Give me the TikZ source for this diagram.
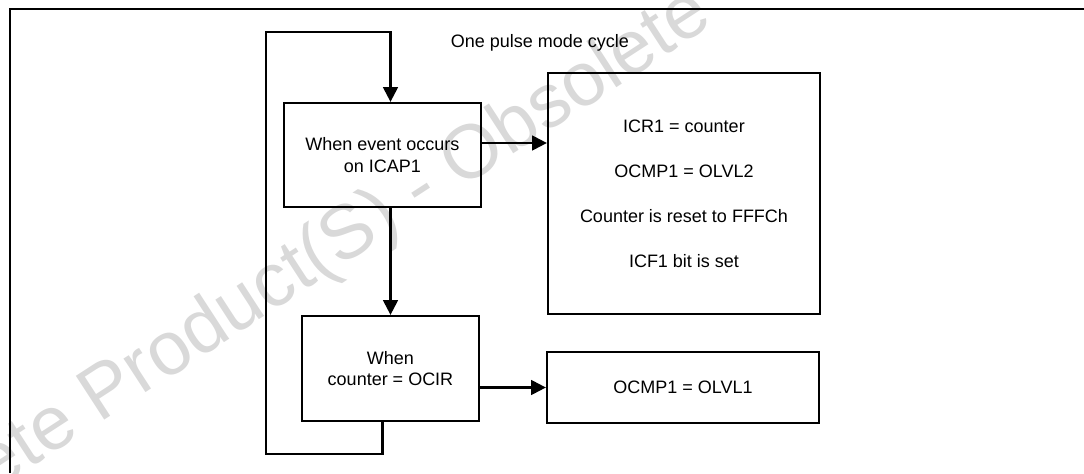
\documentclass[tikz,border=0pt]{standalone}
\usepackage{fontspec}
\setmainfont{Liberation Sans}
\usepackage{tikz}
\usetikzlibrary{arrows.meta,positioning}
\definecolor{markgray}{RGB}{217,217,217}

\begin{document}
\begin{tikzpicture}[line width=1.6pt, every node/.style={font=\fontsize{12.8}{15.4}\selectfont},
  box/.style={draw, align=center, inner sep=2pt},
  flow/.style={-{Triangle[length=10.5pt, width=10.5pt]}}]
  \useasboundingbox (0,0) rectangle (27.1,11.825);
  % watermark behind the chart
  \node[rotate=33, anchor=base west, inner sep=0, text=markgray, font=\fontsize{54}{64}\selectfont] (mark) at (-4.35,-3.2) {Obsolete Product(S) - Obsolete};
  \coordinate (frame bl) at (0.25,0);
  \coordinate (frame tr) at (27.3,11.6);
  \draw (frame bl) |- (frame tr);
  \node[box, minimum width=4.925cm, minimum height=2.6cm] (event) at (9.5625,7.95) {When event occurs\\on ICAP1};
  \node[box, minimum width=4.425cm, minimum height=2.625cm] (match) at (9.7625,2.6125) {When\\counter = OCIR};
  \node[box, minimum width=6.8cm, minimum height=6.025cm, font=\fontsize{12.8}{32}\selectfont] (capture) at (17.1,6.9875) {ICR1 = counter\\OCMP1 = OLVL2\\Counter is reset to FFFCh\\ICF1 bit is set};
  \node[box, minimum width=6.8cm, minimum height=1.775cm] (level) at (17.075,2.1375) {OCMP1 = OLVL1};
  \node (cycle) at (13.5,10.75) {One pulse mode cycle};
  \draw[flow] ([yshift=0.3cm]event.east) -- ([yshift=0.3cm]event.east -| capture.west);
  \draw[flow] (event.south -| match.north) -- (match.north);
  \draw[flow] (level.west -| match.east) -- (level.west);
  % loop back to the first box
  \coordinate (loop bl) at (6.65,0.475);
  \coordinate (loop tl) at (6.65,11.025);
  \draw[flow] (match.south -| event.center) |- (loop bl) -- (loop tl) -| (event.north -| match.center);
\end{tikzpicture}
\end{document}
